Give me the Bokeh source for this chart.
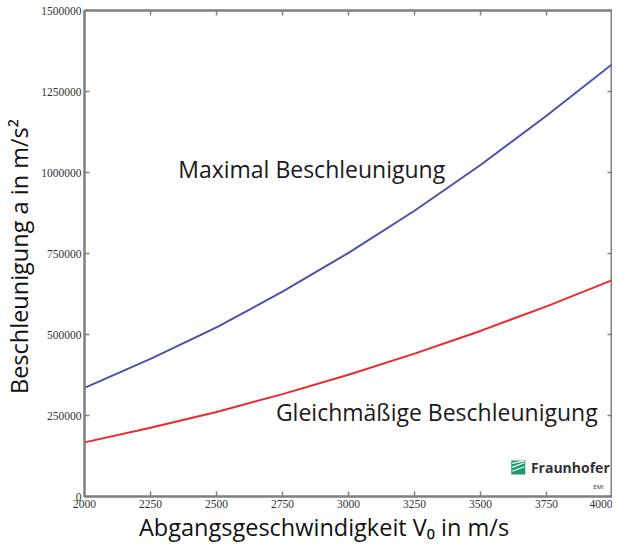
from bokeh.plotting import figure
from bokeh.models import LinearAxis, FixedTicker, NumeralTickFormatter, Label, Range1d
from bokeh.embed import file_html
from bokeh.resources import INLINE

# Data
velocity = [2000, 2250, 2500, 2750, 3000, 3250, 3500, 3750, 4000]
max_accel = [335000, 425000, 522000, 632000, 752000, 882000, 1023000, 1175000, 1335000]
uniform_accel = [167000, 212000, 261000, 316000, 376000, 441000, 511000, 587000, 668000]
x_ticks = [2000, 2250, 2500, 2750, 3000, 3250, 3500, 3750, 4000]
y_ticks = [0, 250000, 500000, 750000, 1000000, 1250000, 1500000]

p = figure(width=612, height=545, output_backend="svg", toolbar_location=None,
           x_range=Range1d(2000, 4000), y_range=Range1d(0, 1500000),
           min_border_left=79, min_border_right=0, min_border_top=10, min_border_bottom=47)
p.grid.visible = False
p.outline_line_color = "#808080"
p.outline_line_width = 2
p.background_fill_color = "white"
p.border_fill_color = "white"

axis_color = "#808080"
tick_font = "Liberation Serif"

for ax in [p.xaxis[0], p.yaxis[0]]:
    ax.axis_line_color = axis_color
    ax.axis_line_width = 2
    ax.major_tick_line_color = axis_color
    ax.major_tick_line_width = 1.5
    ax.major_tick_in = 5
    ax.major_tick_out = 0
    ax.minor_tick_line_color = None
    ax.major_label_text_font = tick_font
    ax.major_label_text_font_size = "11.5px"
    ax.major_label_text_color = "#333333"
    ax.major_label_standoff = 3
    ax.axis_label_text_font = "Open Sans"
    ax.axis_label_text_font_size = "23.5px"
    ax.axis_label_text_font_style = "normal"
    ax.axis_label_text_color = "#111111"

p.xaxis[0].ticker = FixedTicker(ticks=x_ticks)
p.yaxis[0].ticker = FixedTicker(ticks=y_ticks)
p.yaxis[0].formatter = NumeralTickFormatter(format="0")
p.xaxis[0].formatter = NumeralTickFormatter(format="0")
nb = "\u00a0"
p.xaxis[0].axis_label = "Abgangsgeschwindigkeit V\u2080  in m/s" + nb * 7
p.yaxis[0].axis_label = nb * 3 + "Beschleunigung   a   in m/s\u00b2"
p.xaxis[0].axis_label_standoff = 0
p.yaxis[0].axis_label_standoff = 3

top = LinearAxis(ticker=FixedTicker(ticks=x_ticks))
right = LinearAxis(ticker=FixedTicker(ticks=y_ticks))
for ax in [top, right]:
    ax.axis_line_color = axis_color
    ax.axis_line_width = 2
    ax.major_tick_line_color = axis_color
    ax.major_tick_line_width = 1.5
    ax.major_tick_in = 5
    ax.major_tick_out = 0
    ax.minor_tick_line_color = None
    ax.major_label_text_font_size = "0px"
    ax.major_label_text_alpha = 0
    ax.major_label_standoff = 0
p.add_layout(top, "above")
p.add_layout(right, "right")

p.line(velocity, max_accel, line_color="#4a52b0", line_width=2)
p.line(velocity, uniform_accel, line_color="#f0282a", line_width=2)

p.add_layout(Label(x=2355, y=1010000, text="Maximal Beschleunigung", text_font="Open Sans",
                   text_font_size="23px", text_color="#1a1a1a",
                   text_baseline="middle", text_align="left"))
p.add_layout(Label(x=2725, y=262000, text="Gleichmäßige Beschleunigung", text_font="Open Sans",
                   text_font_size="23px", text_color="#1a1a1a",
                   text_baseline="middle", text_align="left"))

# Fraunhofer logo (approximation)
p.rect(x=[3643], y=[89300], width=14, height=14, width_units="screen",
       height_units="screen", fill_color="#1f9a6e", line_color=None)
p.segment(x0=[3620, 3620, 3620], y0=[78000, 90000, 102000],
          x1=[3666, 3666, 3666], y1=[92000, 104000, 110000],
          line_color="white", line_width=1.2)
p.add_layout(Label(x=3691, y=89300, text="Fraunhofer", text_font="Open Sans",
                   text_font_size="14px", text_font_style="bold", text_color="#333333",
                   text_baseline="middle", text_align="left"))
p.add_layout(Label(x=3947, y=30800, text="EMI", text_font="Open Sans",
                   text_font_size="6px", text_color="#333333",
                   text_baseline="middle", text_align="center"))

open("out.html", "w").write(file_html(p, INLINE))
